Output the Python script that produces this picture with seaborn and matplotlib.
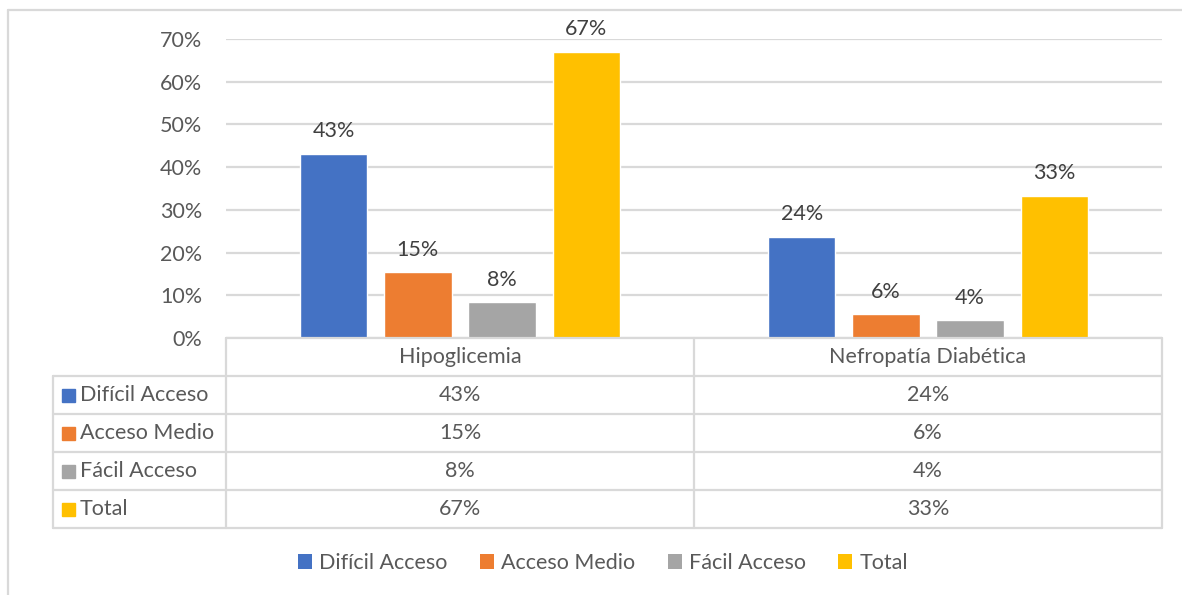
import matplotlib
matplotlib.use('Agg')
import matplotlib.pyplot as plt
import seaborn as sns
import pandas as pd
from matplotlib.patches import Patch

# Chart data
categories = ['Hipoglicemia', 'Nefropatía Diabética']
series = ['Difícil Acceso', 'Acceso Medio', 'Fácil Acceso', 'Total']
dificil_acceso = [0.431, 0.237]
acceso_medio = [0.154, 0.056]
facil_acceso = [0.084, 0.042]
total = [0.67, 0.333]
y_ticks = [0, 0.1, 0.2, 0.3, 0.4, 0.5, 0.6, 0.7]

colors = ['#4472C4', '#ED7D31', '#A5A5A5', '#FFC000']
LINE = '#D9D9D9'
TXT = '#595959'
LBL = '#404040'
FONT = ['Lato', 'DejaVu Sans']
FS = 15.5

values = [dificil_acceso, acceso_medio, facil_acceso, total]
df = pd.DataFrame({
    'categoria': [c for s in series for c in categories],
    'serie': [s for s in series for c in categories],
    'valor': [v for vals in values for v in vals],
})

sns.set_theme(style='white')
plt.rcParams['font.family'] = FONT

W, H = 1182, 595
fig = plt.figure(figsize=(W / 100, H / 100), dpi=100)


def fx(x):
    return x / W


def fy(y):
    return 1 - y / H


def hline(y, x0, x1):
    fig.add_artist(plt.Line2D([fx(x0), fx(x1)], [fy(y), fy(y)], color=LINE, lw=1.6))


def vline(x, y0, y1):
    fig.add_artist(plt.Line2D([fx(x), fx(x)], [fy(y0), fy(y1)], color=LINE, lw=1.6))


# outer frame (top and left edge visible)
hline(10, 8, W)
vline(8, 10, H)

ax = fig.add_axes([fx(226), fy(338), fx(1162) - fx(226), fy(39) - fy(338)])
sns.barplot(data=df, x='categoria', y='valor', hue='serie', hue_order=series,
            order=categories, palette=colors, saturation=1, width=0.72, gap=0.2,
            legend=False, ax=ax)
ax.set_ylim(0, 0.7)
ax.set_xlim(-0.5, 1.5)
ax.set_yticks(y_ticks)
ax.set_yticklabels([f'{t:.0%}' for t in y_ticks], color=TXT, fontsize=FS)
ax.tick_params(axis='y', length=0, pad=17)
ax.set_xticks([])
ax.set_xlabel('')
ax.set_ylabel('')
ax.grid(axis='y', color=LINE, lw=1.6)
ax.set_axisbelow(True)
for sp in ax.spines.values():
    sp.set_visible(False)

for cont in ax.containers:
    ax.bar_label(cont, labels=[f'{b.get_height():.0%}' for b in cont],
                 padding=9, color=LBL, fontsize=FS)

# data table below the plot
row_y = [338, 376, 414, 452, 490, 528]
col_x = [53, 226, 694, 1162]
hline(338, 226, 1162)
for y in row_y[1:]:
    hline(y, 53, 1162)
vline(53, 376, 528)
for x in col_x[1:]:
    vline(x, 338, 528)

for j, cat in enumerate(categories):
    xc = (col_x[j + 1] + col_x[j + 2]) / 2
    fig.text(fx(xc), fy((row_y[0] + row_y[1]) / 2), cat, ha='center', va='center',
             color=TXT, fontsize=FS)

for i, (name, vals) in enumerate(zip(series, values)):
    yc = (row_y[i + 1] + row_y[i + 2]) / 2
    fig.add_artist(plt.Rectangle((fx(62), fy(yc + 6.5)), 13 / W, 13 / H,
                                 color=colors[i], transform=fig.transFigure))
    fig.text(fx(80), fy(yc), name, ha='left', va='center', color=TXT, fontsize=FS)
    for j, v in enumerate(vals):
        xc = (col_x[j + 1] + col_x[j + 2]) / 2
        fig.text(fx(xc), fy(yc), f'{v:.0%}', ha='center', va='center',
                 color=TXT, fontsize=FS)

# legend at the bottom
handles = [Patch(facecolor=c, edgecolor='none') for c in colors]
fig.legend(handles, series, loc='center', bbox_to_anchor=(fx(603), fy(563)), ncol=4,
           frameon=False, fontsize=FS, labelcolor=TXT, handlelength=0.65,
           handleheight=0.65, handletextpad=0.35, columnspacing=1.5)

fig.savefig('out.png', dpi=100, facecolor='white')
